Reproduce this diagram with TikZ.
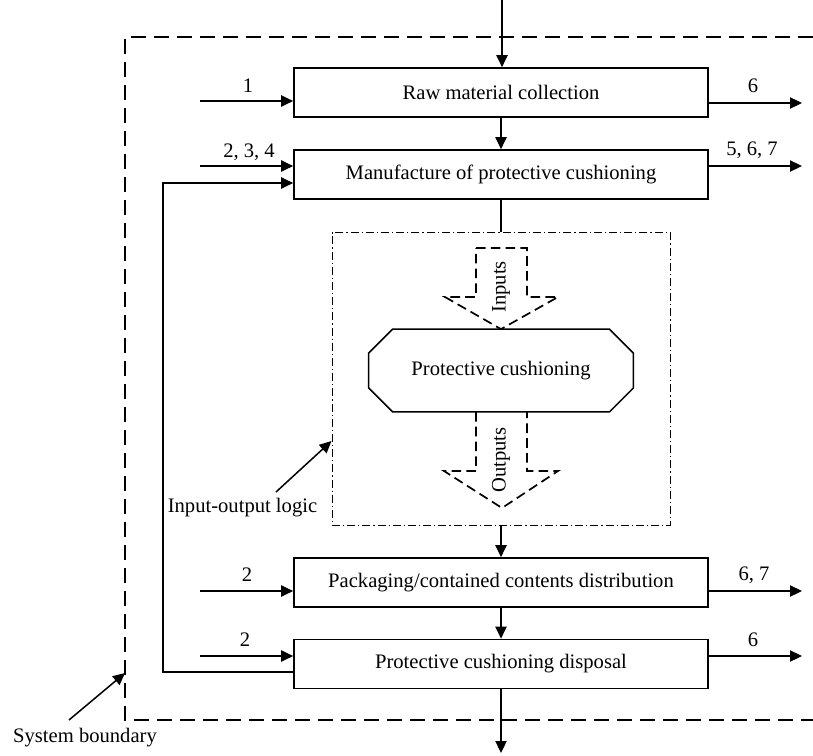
\documentclass[tikz,border=0pt]{standalone}
\usepackage{fontspec}
\setmainfont{Liberation Serif}
\usetikzlibrary{arrows.meta,calc}

\tikzset{
  stagebox/.style={draw, line width=0.85pt, minimum width=207pt, minimum height=24.5pt, inner sep=0pt},
  flow/.style={line width=0.75pt},
  arr/.style={flow, -{Triangle[length=6pt,width=5.6pt]}},
  lbl/.style={inner sep=0pt},
  boundary/.style={line width=1.15pt, dash pattern=on 7.5pt off 4pt},
  logicbox/.style={draw, line width=0.5pt, dash pattern=on 4pt off 1.5pt on 0.6pt off 1.5pt,
                   minimum width=169pt, minimum height=146.5pt, inner sep=0pt},
  blockarrow/.style={line width=0.85pt, dash pattern=on 4.8pt off 2.6pt},
}

\begin{document}
\begin{tikzpicture}[x=0.5pt,y=-0.5pt,font=\fontsize{10.3}{12}\selectfont]
\useasboundingbox (0,0) rectangle (813,755);

% system boundary (open to the right)
\draw[boundary] (813,37) -- (125,37) -- (125,720) -- (813,720);

% life-cycle stages
\node[stagebox] (raw)  at (501,92.5)  {Raw material collection};
\node[stagebox] (manu) at (501,174.5) {Manufacture of protective cushioning};
\node[logicbox] (logic) at (501,379) {};
\node[stagebox] (pack) at (501,582.5) {Packaging/contained contents distribution};
\node[stagebox] (disp) at (501,664)   {Protective cushioning disposal};

% octagon in the input-output logic
\node[minimum width=132pt, minimum height=41pt, inner sep=0pt] (oct) at (501,370.5) {Protective cushioning};
\draw[line width=0.75pt]
  ($(oct.north west)+(12pt,0)$) -- ($(oct.north east)+(-12pt,0)$)
  -- ($(oct.north east)+(0,-12pt)$) -- ($(oct.south east)+(0,12pt)$)
  -- ($(oct.south east)+(-12pt,0)$) -- ($(oct.south west)+(12pt,0)$)
  -- ($(oct.south west)+(0,12pt)$) -- ($(oct.north west)+(0,-12pt)$) -- cycle;

% dashed block arrows
\draw[blockarrow] (476,248) -- (527,248) -- (527,297) -- (558,297) -- (oct.north)
  -- (445,297) -- (476,297) -- cycle;
\node[lbl, rotate=90] (inlbl) at (501,287) {Inputs};
\draw[blockarrow] (oct.south -| 476,0) -- (476,471) -- (444,471) -- (502,508)
  -- (558,471) -- (527,471) -- (oct.south -| 527,0);
\node[lbl, rotate=90] (outlbl) at (501,460) {Outputs};

% main flow
\coordinate (topin) at (502,0);
\coordinate (botout) at (501,753);
\draw[arr] (topin) -- (raw.north -| topin);
\draw[arr] (raw) -- (manu);
\draw[flow] (manu.south) -- (logic.north);
\draw[arr] (logic.south) -- (pack.north);
\draw[arr] (pack) -- (disp);
\draw[arr] (disp.south) -- (botout);

% inputs from the left
\coordinate (i1) at (200,101);
\coordinate (i2) at (200,166);
\coordinate (i3) at (200,591);
\coordinate (i4) at (200,656);
\draw[arr] (i1) -- (i1 -| raw.west);
\draw[arr] (i2) -- (i2 -| manu.west);
\draw[arr] (i3) -- (i3 -| pack.west);
\draw[arr] (i4) -- (i4 -| disp.west);
\node[lbl] (l1) at (248,86)  {1};
\node[lbl] (l2) at (249,152) {2, 3, 4};
\node[lbl] (l3) at (247,575) {2};
\node[lbl] (l4) at (245,640) {2};

% outputs to the right
\coordinate (o1) at (802,103);
\coordinate (o2) at (802,166);
\coordinate (o3) at (802,591);
\coordinate (o4) at (802,656);
\draw[arr] (o1 -| raw.east) -- (o1);
\draw[arr] (o2 -| manu.east) -- (o2);
\draw[arr] (o3 -| pack.east) -- (o3);
\draw[arr] (o4 -| disp.east) -- (o4);
\node[lbl] (r1) at (753,86)  {6};
\node[lbl] (r2) at (752,150) {5, 6, 7};
\node[lbl] (r3) at (754,575) {6, 7};
\node[lbl] (r4) at (753,640) {6};

% feedback from disposal to manufacture
\coordinate (fbA) at (163,672);
\coordinate (fbB) at (163,183);
\draw[arr] (fbA -| disp.west) -- (fbA) -- (fbB) -- (fbB -| manu.west);

% callouts
\node[lbl] (iol) at (242.5,508) {Input-output logic};
\coordinate (iolA) at (276,492);
\draw[arr] (iolA) -- (logic.west |- 0,441);
\node[lbl] (sysb) at (85,738) {System boundary};
\coordinate (sysA) at (69,720);
\draw[arr] (sysA) -- (125,673);
\end{tikzpicture}
\end{document}
